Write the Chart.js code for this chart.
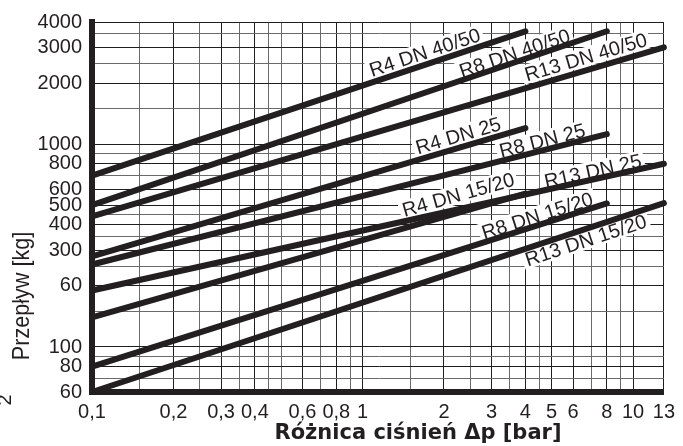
<!DOCTYPE html>
<html lang="pl">
<head>
  <meta charset="UTF-8" />
  <title>Przepływ - wykres</title>
  <script src="https://cdn.jsdelivr.net/npm/chart.js"></script>
  <style>
    html, body { margin: 0; padding: 0; background: #fff; }
  </style>
</head>
<body>

<canvas id="flowChart" width="683" height="446"></canvas>

<script>
  // series: straight lines on log-log paper, start at 0,1 bar
  const seriesNames = ['R4 DN 40/50', 'R8 DN 40/50', 'R13 DN 40/50',
                       'R4 DN 25', 'R8 DN 25', 'R13 DN 25',
                       'R4 DN 15/20', 'R8 DN 15/20', 'R13 DN 15/20'];
  const startDp  = [0.1, 0.1, 0.1, 0.1, 0.1, 0.1, 0.1, 0.1, 0.1];
  const startFlow = [700, 500, 440, 280, 255, 190, 140, 80, 60];
  const endDp    = [4, 8, 13, 4, 8, 13, 4, 8, 13];
  const endFlow  = [3600, 3600, 3000, 1200, 1120, 800, 570, 510, 512];

  // where each series name sits (data coords)
  const labelDp   = [1.70, 3.65, 6.69, 2.26, 4.62, 7.10, 2.26, 4.43, 6.69];
  const labelFlow = [2830, 2800, 2680, 1100, 1040, 735, 562, 443, 335];

  // grid lines and the labels printed on them
  const xGrid = [0.1, 0.15, 0.2, 0.25, 0.3, 0.35, 0.4, 0.45, 0.5, 0.6, 0.7, 0.8, 0.9,
                 1, 1.5, 2, 2.5, 3, 3.5, 4, 4.5, 5, 6, 7, 8, 9, 10, 13];
  const xTickValues = [0.1, 0.2, 0.3, 0.4, 0.6, 0.8, 1, 2, 3, 4, 5, 6, 8, 10, 13];
  const xTickLabels = ['0,1', '0,2', '0,3', '0,4', '0,6', '0,8', '1', '2', '3', '4', '5', '6', '8', '10', '13'];

  const yGrid = [60, 70, 80, 90, 100, 150, 200, 250, 300, 350, 400, 450, 500, 600, 700, 800, 900,
                 1000, 1500, 2000, 2500, 3000, 3500, 4000];
  const yTickValues = [60, 80, 100, 200, 300, 400, 500, 600, 800, 1000, 2000, 3000, 4000];
  const yTickLabels = ['60', '80', '100', '60', '300', '400', '500', '600', '800', '1000', '2000', '3000', '4000'];

  const ink = '#231f20';
  const fontName = '"Liberation Sans", Arial, sans-serif';

  const datasets = seriesNames.map((name, i) => ({
    label: name,
    data: [{ x: startDp[i], y: startFlow[i] }, { x: endDp[i], y: endFlow[i] }],
    borderColor: ink,
    borderWidth: 6,
    borderCapStyle: 'round',
    pointRadius: 0,
    clip: false
  }));

  const lineLabels = {
    id: 'lineLabels',
    beforeDatasetsDraw(chart) {
      const ctx = chart.ctx;
      const xs = chart.scales.x, ys = chart.scales.y;
      ctx.save();
      ctx.font = '20px ' + fontName;
      seriesNames.forEach((name, i) => {
        const pts = chart.getDatasetMeta(i).data;
        const ang = Math.atan2(pts[1].y - pts[0].y, pts[1].x - pts[0].x);
        const cx = xs.getPixelForValue(labelDp[i]);
        const cy = ys.getPixelForValue(labelFlow[i]);
        const w = ctx.measureText(name).width;
        ctx.save();
        ctx.translate(cx, cy);
        ctx.rotate(ang);
        ctx.fillStyle = '#fff';
        ctx.fillRect(-w / 2 - 3, -10, w + 6, 19);
        ctx.fillStyle = ink;
        ctx.textAlign = 'center';
        ctx.textBaseline = 'middle';
        ctx.fillText(name, 0, 1);
        ctx.restore();
      });
      ctx.restore();
    },
    afterDraw(chart) {
      const ctx = chart.ctx;
      ctx.save();
      ctx.fillStyle = ink;
      ctx.textAlign = 'center';
      ctx.textBaseline = 'middle';
      ctx.font = 'bold 21px "DejaVu Sans", sans-serif';
      ctx.fillText('Różnica ciśnień Δp [bar]', 418, 434);
      // y title: slightly narrow face, as in the original
      ctx.save();
      ctx.translate(22, 296);
      ctx.rotate(-Math.PI / 2);
      ctx.scale(0.9, 1);
      ctx.font = '24px ' + fontName;
      ctx.fillText('Przepływ [kg]', 0, 0);
      ctx.restore();
      ctx.save();
      ctx.translate(5, 400);
      ctx.rotate(-Math.PI / 2);
      ctx.font = '20px ' + fontName;
      ctx.fillText('2', 0, 0);
      ctx.restore();
      ctx.restore();
    }
  };

  const gridColor = (c) => {
    const v = c.tick ? c.tick.value : null;
    return (xTickValues.includes(v) || yTickValues.includes(v)) ? '#1e1e1e' : '#6a6a6a';
  };

  new Chart(document.getElementById('flowChart'), {
    type: 'line',
    data: { datasets },
    plugins: [lineLabels],
    options: {
      responsive: false,
      animation: false,
      layout: { padding: { top: 18, right: 12, left: 0, bottom: 0 } },
      elements: { line: { tension: 0 } },
      plugins: { legend: { display: false }, tooltip: { enabled: false } },
      scales: {
        x: {
          type: 'logarithmic',
          min: 0.1,
          max: 13,
          afterBuildTicks: (s) => { s.ticks = xGrid.map(v => ({ value: v })); },
          afterFit: (s) => { s.height = 54; },
          grid: { color: gridColor, lineWidth: 1, drawTicks: false },
          border: { display: true, color: ink, width: 6 },
          ticks: {
            autoSkip: false,
            maxRotation: 0,
            padding: 8,
            color: ink,
            font: { family: fontName, size: 20 },
            callback: (v) => {
              const k = xTickValues.indexOf(v);
              return k >= 0 ? xTickLabels[k] : '';
            }
          }
        },
        y: {
          type: 'logarithmic',
          min: 60,
          max: 4000,
          afterBuildTicks: (s) => { s.ticks = yGrid.map(v => ({ value: v })); },
          afterFit: (s) => { s.width = 92; },
          grid: { color: gridColor, lineWidth: 1, drawTicks: false },
          border: { display: true, color: ink, width: 6 },
          ticks: {
            autoSkip: false,
            padding: 10,
            color: ink,
            font: { family: fontName, size: 20 },
            callback: (v) => {
              const k = yTickValues.indexOf(v);
              return k >= 0 ? yTickLabels[k] : '';
            }
          }
        }
      }
    }
  });
</script>

</body>
</html>
